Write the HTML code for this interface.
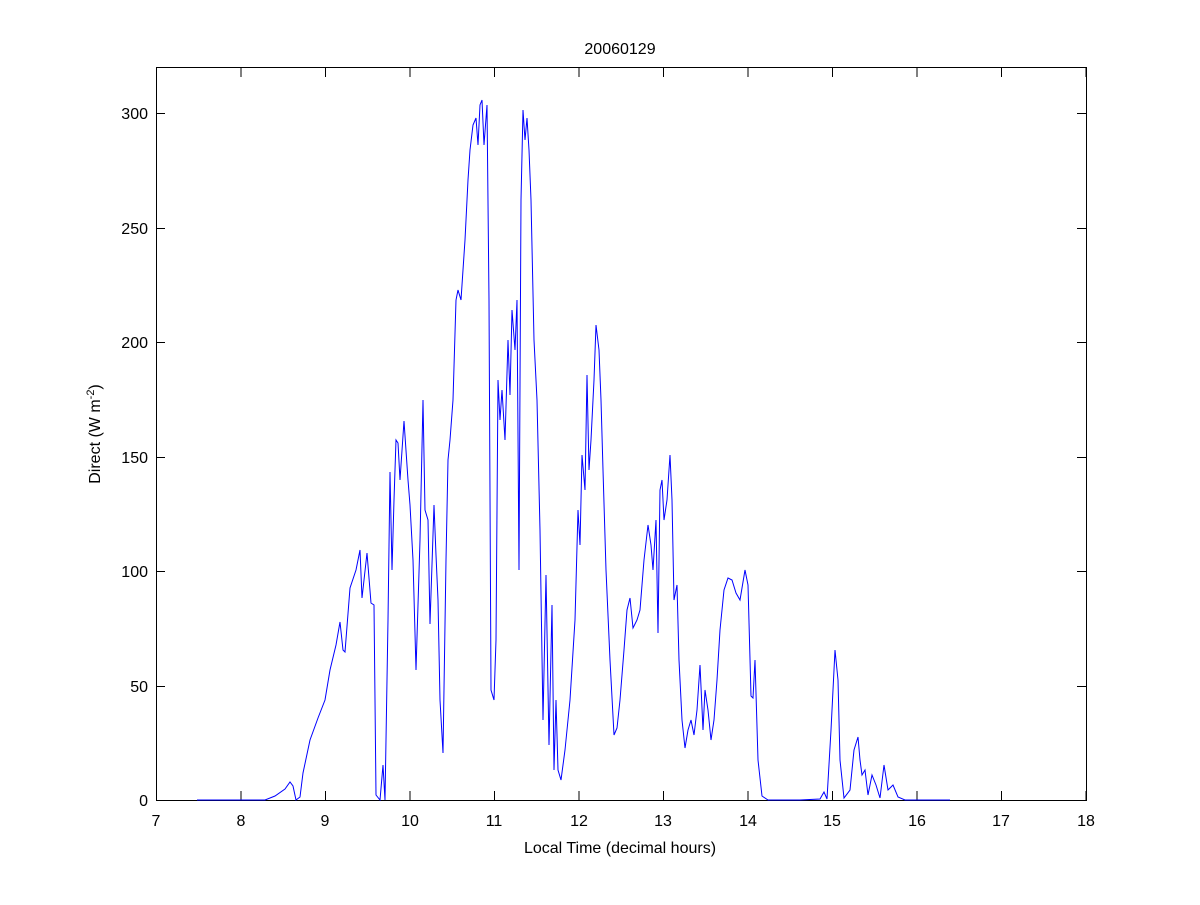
<!DOCTYPE html>
<html><head><meta charset="utf-8"><style>html,body{margin:0;padding:0;background:#fff;}</style></head>
<body>
<svg width="1200" height="900" xmlns="http://www.w3.org/2000/svg" font-family="Liberation Sans, Arial, sans-serif">
<rect width="1200" height="900" fill="#fff"/>
<rect x="156.5" y="67.5" width="930" height="733" fill="none" stroke="#000" stroke-width="1"/>
<g stroke="#000" stroke-width="1">
<line x1="156.5" y1="800" x2="156.5" y2="791"/><line x1="156.5" y1="68" x2="156.5" y2="77"/>
<line x1="241" y1="800" x2="241" y2="791"/><line x1="241" y1="68" x2="241" y2="77"/>
<line x1="325.5" y1="800" x2="325.5" y2="791"/><line x1="325.5" y1="68" x2="325.5" y2="77"/>
<line x1="410" y1="800" x2="410" y2="791"/><line x1="410" y1="68" x2="410" y2="77"/>
<line x1="494.5" y1="800" x2="494.5" y2="791"/><line x1="494.5" y1="68" x2="494.5" y2="77"/>
<line x1="579" y1="800" x2="579" y2="791"/><line x1="579" y1="68" x2="579" y2="77"/>
<line x1="663.5" y1="800" x2="663.5" y2="791"/><line x1="663.5" y1="68" x2="663.5" y2="77"/>
<line x1="748" y1="800" x2="748" y2="791"/><line x1="748" y1="68" x2="748" y2="77"/>
<line x1="832.5" y1="800" x2="832.5" y2="791"/><line x1="832.5" y1="68" x2="832.5" y2="77"/>
<line x1="917" y1="800" x2="917" y2="791"/><line x1="917" y1="68" x2="917" y2="77"/>
<line x1="1001.5" y1="800" x2="1001.5" y2="791"/><line x1="1001.5" y1="68" x2="1001.5" y2="77"/>
<line x1="1086" y1="800" x2="1086" y2="791"/><line x1="1086" y1="68" x2="1086" y2="77"/>
<line x1="156" y1="686.5" x2="165" y2="686.5"/><line x1="1086" y1="686.5" x2="1077" y2="686.5"/>
<line x1="156" y1="571.5" x2="165" y2="571.5"/><line x1="1086" y1="571.5" x2="1077" y2="571.5"/>
<line x1="156" y1="457.5" x2="165" y2="457.5"/><line x1="1086" y1="457.5" x2="1077" y2="457.5"/>
<line x1="156" y1="342.5" x2="165" y2="342.5"/><line x1="1086" y1="342.5" x2="1077" y2="342.5"/>
<line x1="156" y1="228.5" x2="165" y2="228.5"/><line x1="1086" y1="228.5" x2="1077" y2="228.5"/>
<line x1="156" y1="113.5" x2="165" y2="113.5"/><line x1="1086" y1="113.5" x2="1077" y2="113.5"/>
</g>
<g font-size="16" text-anchor="middle" fill="#000">
<text x="156" y="826">7</text><text x="241" y="826">8</text><text x="325" y="826">9</text><text x="410" y="826">10</text>
<text x="494" y="826">11</text><text x="579" y="826">12</text><text x="663" y="826">13</text><text x="748" y="826">14</text>
<text x="832" y="826">15</text><text x="917" y="826">16</text><text x="1001" y="826">17</text><text x="1086" y="826">18</text>
<text x="620" y="853">Local Time (decimal hours)</text>
<text x="620" y="54">20060129</text>
</g>
<g font-size="16" text-anchor="end" fill="#000">
<text x="148" y="806">0</text><text x="148" y="692">50</text><text x="148" y="577">100</text><text x="148" y="463">150</text>
<text x="148" y="348">200</text><text x="148" y="234">250</text><text x="148" y="119">300</text>
</g>
<text transform="translate(100,434) rotate(-90)" font-size="16" text-anchor="middle" fill="#000">Direct (W m<tspan font-size="11" dy="-6">-2</tspan><tspan dy="6">)</tspan></text>
<polyline fill="none" stroke="#0000ff" stroke-width="1" points="197,800 265,800 275,796 285,789 290,782 293,786 296,800 300,797 303,773 310,740 318,718 325,700 330,670 336,645 340,622 343,650 345,652 350,588 356,570 360,550 362,598 367,553 371,603 374,605 376,795 380,800 383,765 385,800 388,620 390,472 392,570 394,500 396,440 398,443 400,480 404,421 408,480 410,505 413,560 416,670 420,540 423,400 425,510 428,520 430,624 434,505 436,555 438,600 440,700 443,753 446,560 448,460 450,440 453,400 456,300 458,290 461,300 465,240 468,180 470,150 473,125 476,118 478,145 480,105 482,100 484,145 487,105 489,300 491,690 494,700 496,640 498,380 500,420 502,390 505,440 508,340 510,395 512,310 515,350 517,300 519,570 521,200 523,110 525,140 527,118 529,150 531,200 534,340 537,400 540,530 543,720 546,575 549,745 552,605 554,770 556,700 558,770 561,780 565,750 570,700 575,620 578,510 580,545 582,455 585,490 587,375 589,470 591,440 594,380 596,325 599,350 601,400 603,470 606,570 610,660 614,735 617,728 620,700 624,650 627,610 630,598 633,628 637,620 640,610 644,560 648,525 651,545 653,570 656,520 658,633 660,490 662,480 664,520 667,500 670,455 672,500 674,600 677,585 679,660 682,720 685,748 688,730 691,720 694,735 697,710 700,665 703,730 705,690 708,710 711,740 714,720 717,680 720,630 724,590 728,578 732,580 736,593 740,600 745,570 748,585 751,696 753,698 755,660 758,760 762,796 768,800 800,800 820,799 824,792 827,799 831,730 835,650 838,680 840,760 844,798 850,790 854,750 858,737 860,760 862,775 865,770 868,795 872,775 876,785 880,798 884,765 888,790 893,785 898,797 905,800 950,800"/>
</svg>
</body></html>
